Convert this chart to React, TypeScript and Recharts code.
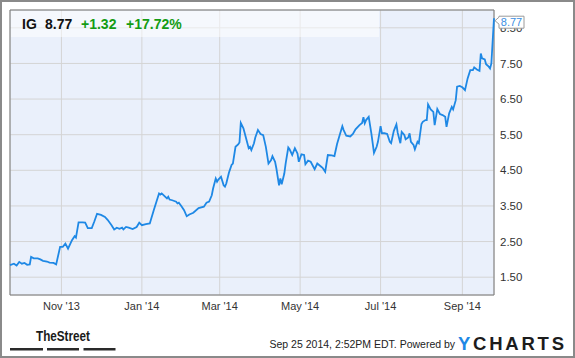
import { LineChart, Line, XAxis, YAxis, CartesianGrid, ReferenceArea, ReferenceDot } from 'recharts'

// days counted from Sep 23 2013
const days = [
  0, 3, 5, 7, 9, 11, 13, 15, 16, 18,
  21, 23, 25, 28, 30, 33, 35, 38, 40, 42,
  44, 47, 49, 50, 52, 55, 57, 59, 62, 64,
  66, 69, 72, 74, 77, 79, 81, 83, 85, 86,
  88, 90, 93, 96, 98, 100, 103, 106, 109, 113,
  114, 115, 117, 119, 120, 121, 123, 126, 127, 128,
  130, 132, 134, 136, 139, 143, 147, 149, 151, 153,
  154, 156, 157, 158, 160, 162, 163, 164, 166, 168,
  169, 171, 173, 174, 175, 177, 179, 181, 182, 183,
  185, 186, 188, 190, 192, 194, 196, 198, 199, 201,
  202, 204, 205, 206, 208, 209, 211, 212, 214, 216,
  218, 219, 221, 223, 224, 226, 228, 231, 233, 236,
  237, 239, 241, 244, 246, 248, 250, 252, 253, 255,
  258, 260, 262, 265, 267, 268, 269, 270, 272, 274,
  276, 278, 279, 281, 282, 284, 286, 288, 289, 291,
  293, 294, 296, 297, 299, 300, 302, 303, 304, 306,
  307, 309, 310, 312, 313, 315, 316, 317, 319, 321,
  322, 324, 326, 328, 330, 331, 333, 335, 336, 338,
  339, 341, 343, 345, 347, 349, 351, 352, 354, 356,
  357, 358, 360, 361, 363, 364, 365, 367,
]

const prices = [
  1.84, 1.88, 1.83, 1.93, 1.88, 1.9, 1.85, 1.86, 2.07, 2.03,
  2.03, 2.0, 1.96, 1.94, 1.91, 1.9, 1.86, 2.35, 2.35, 2.44,
  2.3, 2.54, 2.65, 2.61, 3.04, 3.04, 3.03, 2.88, 2.88, 3.07,
  3.28, 3.25, 3.19, 3.11, 2.96, 2.84, 2.89, 2.86, 2.89, 2.84,
  2.91, 2.89, 2.85, 2.91, 3.03, 2.96, 2.99, 3.01, 3.38, 3.85,
  3.82, 3.85, 3.78, 3.71, 3.76, 3.68, 3.66, 3.62, 3.57, 3.59,
  3.49, 3.38, 3.21, 3.26, 3.31, 3.44, 3.48, 3.59, 3.62, 3.8,
  3.99, 4.27, 4.18, 4.24, 4.32, 4.08, 4.04, 4.13, 4.43, 4.65,
  4.69, 5.16, 5.23, 5.28, 5.83, 5.68, 5.4, 5.12, 5.16, 5.07,
  5.26, 5.42, 5.63, 5.52, 5.49, 5.16, 4.69, 4.79, 4.9, 4.74,
  4.55, 4.08, 4.27, 4.11, 4.41, 4.69, 5.14, 5.09, 4.93, 5.12,
  4.97, 4.74, 4.95, 4.93, 4.67, 4.77, 4.74, 4.53, 4.69, 4.6,
  4.57, 4.46, 4.93, 4.92, 4.9, 5.24, 5.49, 5.74, 5.63, 5.47,
  5.45, 5.52, 5.65, 5.77, 5.83, 5.99, 5.82, 5.91, 6.0, 5.54,
  4.99, 5.16, 5.3, 5.74, 5.54, 5.54, 5.52, 5.3, 5.26, 5.6,
  5.79, 5.55, 5.26, 5.58, 5.49, 5.37, 5.42, 5.54, 5.3, 5.21,
  5.09, 5.3, 5.26, 5.8, 5.86, 5.91, 5.91, 6.35, 6.21, 6.14,
  5.77, 6.22, 6.08, 6.05, 6.0, 5.72, 6.1, 6.28, 6.21, 6.47,
  6.85, 6.87, 6.83, 6.75, 7.08, 7.31, 7.31, 7.39, 7.33, 7.29,
  7.78, 7.64, 7.61, 7.48, 7.41, 7.36, 7.5, 8.77,
]

const monthTicks = [39, 100, 159, 220, 281, 343]
const monthLabels = ["Nov '13", "Jan '14", "Mar '14", "May '14", "Jul '14", "Sep '14"]
const priceTicks = [1.5, 2.5, 3.5, 4.5, 5.5, 6.5, 7.5, 8.5]

const ticker = 'IG'
const lastPrice = '8.77'
const change = '+1.32'
const changePct = '+17.72%'
const stamp = 'Sep 25 2014, 2:52PM EDT. Powered by'

const data = days.map((d, i) => ({ day: d, price: prices[i] }))
const lastDay = days[days.length - 1]
const lastValue = prices[prices.length - 1]

const FONT = 'Arial, "Liberation Sans", sans-serif'
const BLUE = '#1e88e5'

function Callout(props: any) {
  const { cx, cy } = props
  if (cx == null || cy == null) return <g />
  return (
    <g>
      <path
        d={`M${cx + 1},${cy + 2.5} L${cx + 5},${cy - 1} L${cx + 5},${cy - 2} L${cx + 30},${cy - 2} L${cx + 30},${cy + 10} L${cx + 5},${cy + 10} L${cx + 5},${cy + 6} Z`}
        fill="#fff"
        stroke="#9a9a9a"
      />
      <text x={cx + 17.5} y={cy + 8} textAnchor="middle" fontSize={11} fontFamily={FONT} fill="#3b8fe3">
        {lastValue.toFixed(2)}
      </text>
    </g>
  )
}

export default function App() {
  return (
    <div style={{ position: 'absolute', left: 0, top: 0, width: 575, height: 358, background: '#fff' }}>
      <LineChart width={575} height={358} data={data} margin={{ top: 10, right: 0, bottom: 43, left: 10 }}>
        <CartesianGrid stroke="#d4d4d4" fill="#eaf0fb" />
        <XAxis
          type="number"
          dataKey="day"
          domain={[0, 367]}
          ticks={monthTicks}
          tickFormatter={(v: number) => monthLabels[monthTicks.indexOf(v)] ?? ''}
          tickLine={false}
          axisLine={false}
          tickSize={0}
          tickMargin={7}
          height={20}
          tick={{ fill: '#333', fontSize: 11, fontFamily: FONT }}
        />
        <YAxis
          orientation="right"
          type="number"
          domain={[1, 9]}
          ticks={priceTicks}
          tickFormatter={(v: number) => v.toFixed(2)}
          tickLine={false}
          axisLine={false}
          tickSize={0}
          tickMargin={6}
          width={81}
          tick={{ fill: '#333', fontSize: 11.5, fontFamily: FONT, textAnchor: 'start' }}
        />
        <ReferenceArea x1={0} x2={367} y1={1} y2={9} fill="none" stroke="#7a7a7a" />
        <Line
          type="linear"
          dataKey="price"
          stroke={BLUE}
          strokeWidth={1.8}
          dot={false}
          activeDot={false}
          isAnimationActive={false}
        />
        <ReferenceDot
          x={lastDay}
          y={lastValue}
          shape={Callout}
          ifOverflow="visible"
          zIndex={2500}
        />
      </LineChart>
      <svg
        width={575}
        height={358}
        style={{ position: 'absolute', left: 0, top: 0, pointerEvents: 'none' }}
        fontFamily={FONT}
      >
        <rect x={1} y={1} width={573} height={356} fill="none" stroke="#8a8a8a" strokeWidth={2} />
        <rect x={11} y={11} width={368} height={26} fill="#fff" fillOpacity={0.5} />
        <text y={29} fontSize={14} fontWeight="bold">
          <tspan x={22} fill="#111">{ticker}</tspan>
          <tspan x={45} fill="#111">{lastPrice}</tspan>
          <tspan x={81} fill="#149c14">{change}</tspan>
          <tspan x={126} fill="#149c14">{changePct}</tspan>
        </text>
        <text x={36} y={341} fontSize={15} fontWeight="bold" fill="#1a1a1a" textLength={54} lengthAdjust="spacingAndGlyphs">
          TheStreet
        </text>
        <rect x={10} y={348} width={33} height={2.5} fill="#2a2a2a" />
        <rect x={47} y={348} width={32} height={2.5} fill="#2a2a2a" />
        <rect x={83.5} y={348} width={32} height={2.5} fill="#2a2a2a" />
        <text x={269.5} y={347.5} fontSize={10.5} fill="#222">
          {stamp}
        </text>
        <text x={458} y={350} fontSize={18.5} fontWeight="bold" textLength={106} lengthAdjust="spacing">
          <tspan fill={BLUE}>Y</tspan>
          <tspan fill="#1c1c1c">CHARTS</tspan>
        </text>
      </svg>
    </div>
  )
}
